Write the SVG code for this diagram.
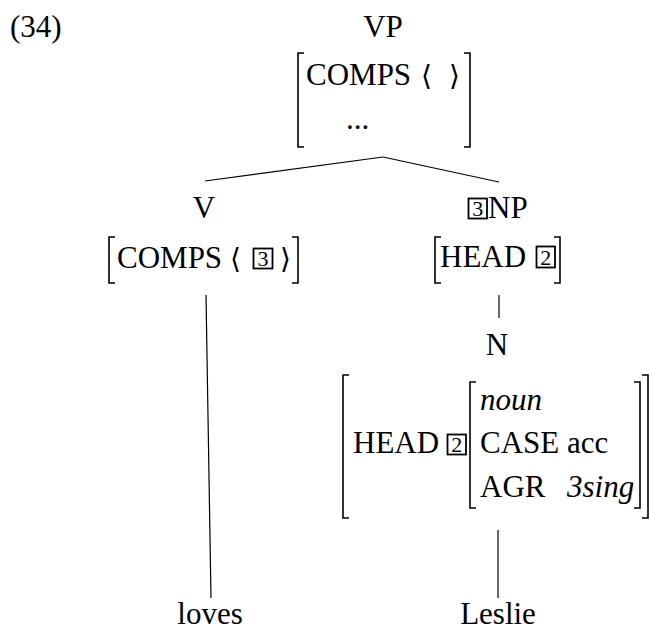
<svg xmlns="http://www.w3.org/2000/svg" width="649" height="632" viewBox="0 0 649 632" font-family="'Liberation Serif', 'DejaVu Serif', serif">
<style>
text{font-family:"Liberation Serif","DejaVu Serif",serif;font-size:31px;fill:#000}
.it{font-style:italic}
.ang{font-family:"DejaVu Serif","Liberation Serif",serif;font-size:28px}
.dig{font-size:22px;text-anchor:middle}
.mid{text-anchor:middle}
.br{fill:none;stroke:#000;stroke-width:1.6}
.box{fill:none;stroke:#000;stroke-width:1.8}
.ln{stroke:#000;stroke-width:1.2;fill:none}
</style>
<rect width="649" height="632" fill="#fff"/>
<text x="10" y="37">(34)</text>
<g id="connectors">
<line class="ln" x1="383" y1="157" x2="205" y2="181"/>
<line class="ln" x1="383" y1="157" x2="499" y2="182"/>
<line class="ln" x1="206" y1="295" x2="211" y2="598"/>
<line class="ln" x1="499" y1="295" x2="499" y2="318"/>
<line class="ln" x1="498" y1="530" x2="498" y2="598"/>
</g>
<g id="vp">
<text class="mid" x="383" y="37">VP</text>
<path class="br" d="M304,53H298V147H304M464,53H470V147H464"/>
<text x="306" y="85">COMPS</text>
<text class="ang" x="421" y="85">⟨</text>
<text class="ang" x="449" y="85">⟩</text>
<text x="346" y="129" font-size="27">...</text>
</g>
<g id="v">
<text class="mid" x="204" y="218">V</text>
<path class="br" d="M115,237H109V283H115M292,237H298V283H292"/>
<text x="117" y="268">COMPS</text>
<text class="ang" x="230" y="268">⟨</text>
<rect class="box" x="253.5" y="248.5" width="19" height="20"/>
<text class="dig" x="263" y="265.5">3</text>
<text class="ang" x="280" y="268">⟩</text>
</g>
<g id="np">
<rect class="box" x="468.5" y="198.5" width="18.5" height="20"/>
<text class="dig" x="477.7" y="215.5">3</text>
<text x="488" y="218">NP</text>
<path class="br" d="M441,237H435V283H441M554,237H560V283H554"/>
<text x="440" y="267">HEAD</text>
<rect class="box" x="536.5" y="246.5" width="18.5" height="21"/>
<text class="dig" x="545.7" y="264.5">2</text>
</g>
<g id="n">
<text class="mid" x="497" y="355">N</text>
<path class="br" d="M349,375H343V518H349M642,375H648V518H642"/>
<text x="353" y="453">HEAD</text>
<rect class="box" x="447.5" y="434.5" width="18.5" height="20"/>
<text class="dig" x="456.7" y="451.5">2</text>
<path class="br" d="M476,382H470V508H476M634,382H640V508H634"/>
<text class="it" x="480" y="410">noun</text>
<text x="480" y="453">CASE <tspan>acc</tspan></text>
<text x="480" y="497">AGR</text>
<text class="it" x="567" y="497">3sing</text>
</g>
<g id="loves"><text class="mid" x="210" y="624">loves</text></g>
<g id="leslie"><text class="mid" x="498" y="624">Leslie</text></g>
</svg>
